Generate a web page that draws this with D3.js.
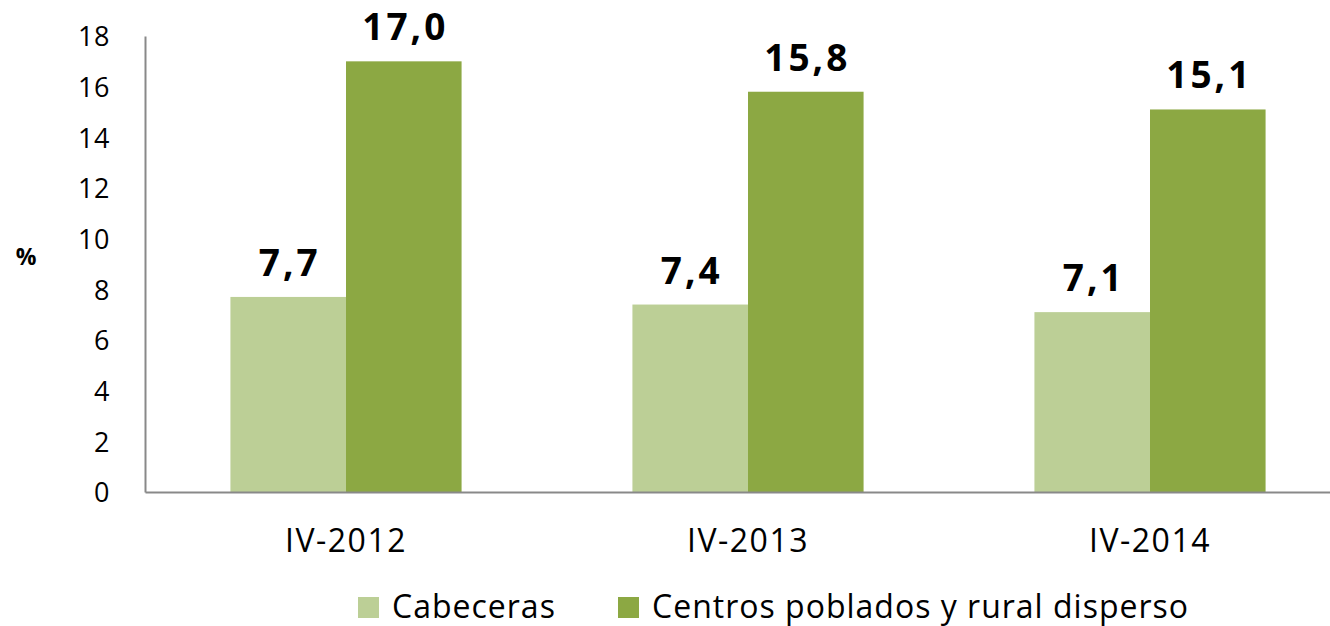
<!DOCTYPE html>
<meta charset="utf-8">
<style>
  body { margin: 0; background: #fff; }
  svg text { font-family: "Open Sans", Lato, sans-serif; fill: #000; }
  .axis path { stroke: #898989; stroke-width: 2; fill: none; }
  .axis line { display: none; }
  .y.axis text { font-size: 27px; letter-spacing: 0.5px; }
  .x.axis text { font-size: 32px; letter-spacing: 1.5px; }
  .value { font-size: 37px; font-weight: bold; letter-spacing: 3px; }
  .legend text { font-size: 32px; letter-spacing: 1px; }
</style>
<body>
<script src="https://d3js.org/d3.v7.min.js"></script>
<script>
var periods = ["IV-2012", "IV-2013", "IV-2014"];
var seriesNames = ["Cabeceras", "Centros poblados y rural disperso"];
var cabeceras = [7.7, 7.4, 7.1];
var rural = [17.0, 15.8, 15.1];
var yTicks = [0, 2, 4, 6, 8, 10, 12, 14, 16, 18];
var colors = ["#bccf96", "#8ca843"];

var width = 1330, height = 626;

var rows = periods.map(function(p, i) {
  return { period: p, values: [cabeceras[i], rural[i]] };
});

var svg = d3.select("body").append("svg")
    .attr("width", width)
    .attr("height", height);

var x0 = d3.scaleBand()
    .domain(periods)
    .range([145, 1351])
    .paddingInner(0.425)
    .paddingOuter(0.2125);

var x1 = d3.scaleBand()
    .domain(seriesNames)
    .range([0, x0.bandwidth()]);

var y = d3.scaleLinear()
    .domain([0, 18])
    .range([492, 36]);

var color = d3.scaleOrdinal()
    .domain(seriesNames)
    .range(colors);

// bars
var groups = svg.selectAll("g.group")
  .data(rows)
  .enter().append("g")
    .attr("class", "group")
    .attr("transform", function(d) { return "translate(" + x0(d.period) + ",0)"; });

groups.selectAll("rect")
  .data(function(d) { return d.values.map(function(v, j) { return { name: seriesNames[j], value: v }; }); })
  .enter().append("rect")
    .attr("x", function(d) { return x1(d.name); })
    .attr("y", function(d) { return y(d.value); })
    .attr("width", x1.bandwidth())
    .attr("height", function(d) { return y(0) - y(d.value); })
    .style("fill", function(d) { return color(d.name); });

groups.selectAll("text.value")
  .data(function(d) { return d.values.map(function(v, j) { return { name: seriesNames[j], value: v }; }); })
  .enter().append("text")
    .attr("class", "value")
    .attr("x", function(d) { return x1(d.name) + x1.bandwidth() / 2 + 1.5; })
    .attr("y", function(d) { return y(d.value) - 21; })
    .attr("text-anchor", "middle")
    .text(function(d) { return d.value.toFixed(1).replace(".", ","); });

// axes
svg.append("g")
    .attr("class", "y axis")
    .attr("transform", "translate(145,0)")
    .call(d3.axisLeft(y).tickValues(yTicks).tickSize(0).tickPadding(35).tickSizeOuter(0))
    .selectAll("text").attr("dy", "0.36em");

svg.append("g")
    .attr("class", "x axis")
    .attr("transform", "translate(0,492)")
    .call(d3.axisBottom(x0).tickSize(0).tickPadding(37).tickSizeOuter(0));

svg.append("text")
    .attr("x", 26)
    .attr("y", 265)
    .attr("text-anchor", "middle")
    .style("font-size", "23px")
    .style("font-weight", "bold")
    .text("%");

// legend
var legendX = [358, 618];
var legend = svg.append("g").attr("class", "legend");
var item = legend.selectAll("g")
  .data(seriesNames)
  .enter().append("g")
    .attr("transform", function(d, i) { return "translate(" + legendX[i] + ",597)"; });

item.append("rect")
    .attr("width", 21)
    .attr("height", 21)
    .style("fill", function(d) { return color(d); });

item.append("text")
    .attr("x", 34)
    .attr("y", 21)
    .text(function(d) { return d; });
</script>
